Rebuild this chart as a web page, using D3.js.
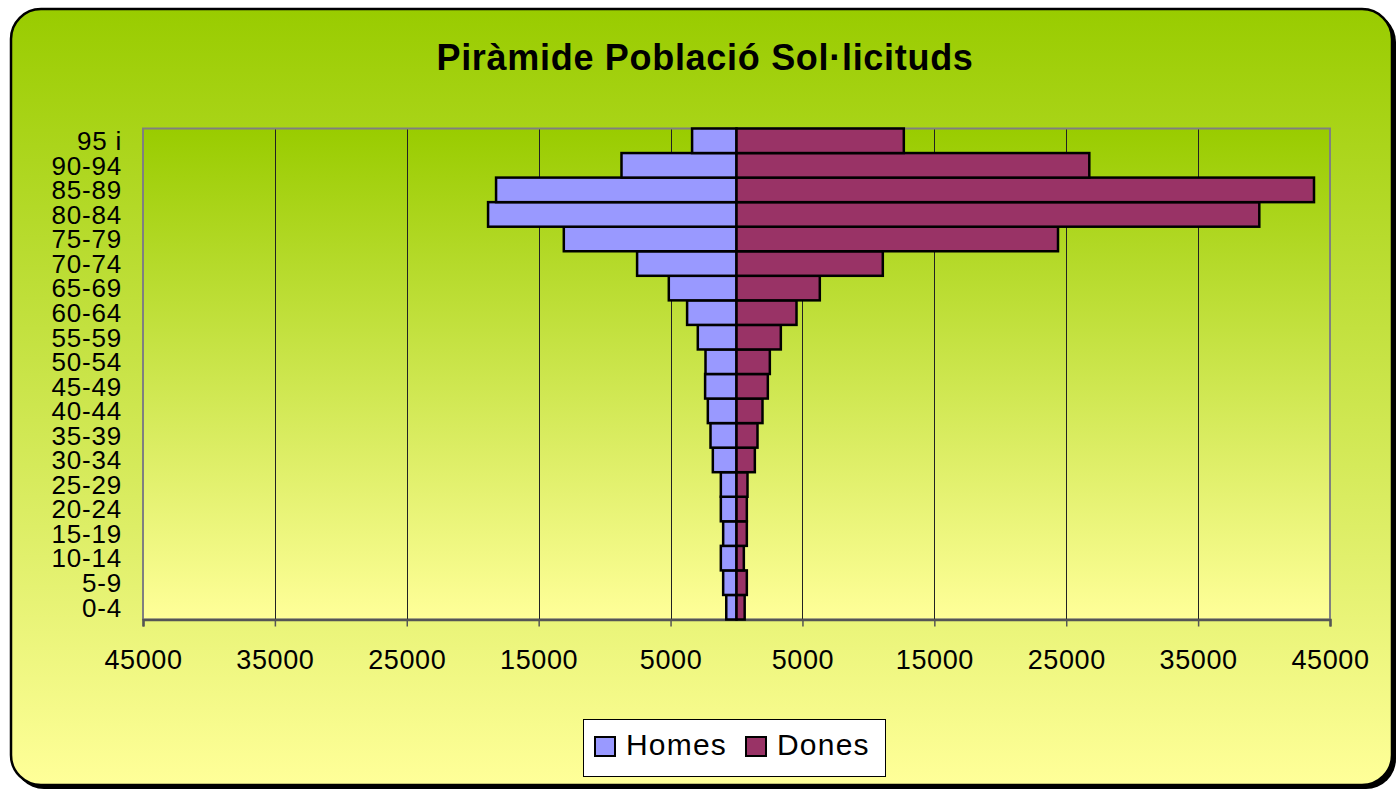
<!DOCTYPE html>
<html>
<head>
<meta charset="utf-8">
<script src="https://cdn.jsdelivr.net/npm/d3@7"></script>
<style>
  body { margin: 0; background: #ffffff; }
  text { font-family: Arial, "Liberation Sans", sans-serif; fill: #000; }
</style>
</head>
<body>
<div id="chart"></div>
<script>
// Piràmide de població - sol·licituds

var width = 1398, height = 793;

// DATA (bottom -> top)
var categories = ["0-4", "5-9", "10-14", "15-19", "20-24", "25-29", "30-34", "35-39", "40-44", "45-49",
                  "50-54", "55-59", "60-64", "65-69", "70-74", "75-79", "80-84", "85-89", "90-94", "95 i"];
var homes = [776, 1011, 1188, 1011, 1188, 1188, 1795, 1971, 2174, 2380,
             2350, 2934, 3745, 5133, 7537, 13094, 18836, 18230, 8720, 3367];
var dones = [620, 783, 556, 783, 783, 834, 1390, 1592, 1971, 2375,
             2527, 3361, 4550, 6316, 11093, 24377, 39640, 43787, 26750, 12686];
var tickValues = [-45000, -35000, -25000, -15000, -5000, 5000, 15000, 25000, 35000, 45000];
var seriesNames = ["Homes", "Dones"];
var seriesColors = ["#9999ff", "#993366"];
var title = "Piràmide Població Sol·licituds";

var plot = {left: 143, right: 1330, top: 128.5, bottom: 619.5};

var svg = d3.select("#chart")
            .append("svg")
            .attr("width", width)
            .attr("height", height);

var defs = svg.append("defs");
function vgrad(id) {
    var g = defs.append("linearGradient")
                .attr("id", id)
                .attr("x1", 0).attr("y1", 0).attr("x2", 0).attr("y2", 1);
    g.append("stop").attr("offset", "0%").attr("stop-color", "#99cc00");
    g.append("stop").attr("offset", "100%").attr("stop-color", "#ffff99");
}
vgrad("bgGrad");
vgrad("plotGrad");

// frame with shadow
svg.append("rect")
   .attr("x", 14).attr("y", 12)
   .attr("width", 1382).attr("height", 777)
   .attr("rx", 30)
   .attr("fill", "#000");
svg.append("rect")
   .attr("x", 11).attr("y", 9)
   .attr("width", 1381).attr("height", 776)
   .attr("rx", 30)
   .attr("fill", "url(#bgGrad)")
   .attr("stroke", "#000")
   .attr("stroke-width", 2.5);

// title
svg.append("text")
   .attr("x", 705)
   .attr("y", 70)
   .attr("text-anchor", "middle")
   .style("font-size", "36px")
   .style("font-weight", "bold")
   .style("letter-spacing", "0.7px")
   .text(title);

// scales
var xScale = d3.scaleLinear()
               .domain([-45000, 45000])
               .range([plot.left, plot.right]);

var yScale = d3.scaleBand()
               .domain(categories.slice().reverse())
               .range([plot.top, plot.bottom])
               .padding(0);

// plot area
svg.append("rect")
   .attr("x", plot.left).attr("y", plot.top)
   .attr("width", plot.right - plot.left)
   .attr("height", plot.bottom - plot.top)
   .attr("fill", "url(#plotGrad)")
   .attr("stroke", "#808080")
   .attr("stroke-width", 2);

// gridlines
svg.append("g").selectAll("line")
   .data(tickValues.slice(1, -1))
   .enter()
   .append("line")
     .attr("x1", function(d) { return Math.round(xScale(d)) + 0.5; })
     .attr("x2", function(d) { return Math.round(xScale(d)) + 0.5; })
     .attr("y1", plot.top + 1)
     .attr("y2", plot.bottom)
     .attr("stroke", "#222")
     .attr("stroke-width", 1);

// X axis
var xAxis = d3.axisBottom(xScale)
              .tickValues(tickValues)
              .tickSize(7)
              .tickFormat(function(d) { return Math.abs(d); });

var gx = svg.append("g")
            .attr("class", "x axis")
            .attr("transform", "translate(0," + plot.bottom + ")")
            .call(xAxis);
gx.select(".domain").attr("stroke", "#555").attr("stroke-width", 2.5);
gx.selectAll(".tick line").attr("stroke", "#555").attr("stroke-width", 1.5);
gx.selectAll(".tick text")
  .attr("y", 49)
  .attr("dy", 0)
  .style("font-size", "27px")
  .style("letter-spacing", "0.6px")
  .attr("fill", "#000");

// Y labels
svg.append("g").selectAll("text")
   .data(categories)
   .enter()
   .append("text")
     .attr("x", 122)
     .attr("y", function(d) { return yScale(d) + yScale.bandwidth() / 2; })
     .attr("dy", "0.36em")
     .attr("text-anchor", "end")
     .style("font-size", "26px")
     .style("letter-spacing", "0.8px")
     .text(function(d) { return d; });

// bars
var rows = categories.map(function(c, i) { return {cat: c, h: homes[i], d: dones[i]}; });

svg.append("g").selectAll("rect")
   .data(rows)
   .enter()
   .append("rect")
     .attr("x", function(d) { return xScale(-d.h); })
     .attr("y", function(d) { return yScale(d.cat); })
     .attr("width", function(d) { return xScale(0) - xScale(-d.h); })
     .attr("height", yScale.bandwidth())
     .attr("fill", seriesColors[0])
     .attr("stroke", "#000")
     .attr("stroke-width", 2.5);

svg.append("g").selectAll("rect")
   .data(rows)
   .enter()
   .append("rect")
     .attr("x", xScale(0))
     .attr("y", function(d) { return yScale(d.cat); })
     .attr("width", function(d) { return xScale(d.d) - xScale(0); })
     .attr("height", yScale.bandwidth())
     .attr("fill", seriesColors[1])
     .attr("stroke", "#000")
     .attr("stroke-width", 2.5);

// legend
var legend = svg.append("g").attr("transform", "translate(583,719)");
legend.append("rect")
      .attr("x", 0.5).attr("y", 0.5)
      .attr("width", 302).attr("height", 57)
      .attr("fill", "#fff")
      .attr("stroke", "#000")
      .attr("stroke-width", 1);

var legX = [12, 163];
seriesNames.forEach(function(name, i) {
    legend.append("rect")
          .attr("x", legX[i]).attr("y", 18)
          .attr("width", 20).attr("height", 19)
          .attr("fill", seriesColors[i])
          .attr("stroke", "#000")
          .attr("stroke-width", 2);
    legend.append("text")
          .attr("x", legX[i] + 31)
          .attr("y", 36)
          .style("font-size", "30px")
          .style("letter-spacing", "1.2px")
          .text(name);
});
</script>
</body>
</html>
